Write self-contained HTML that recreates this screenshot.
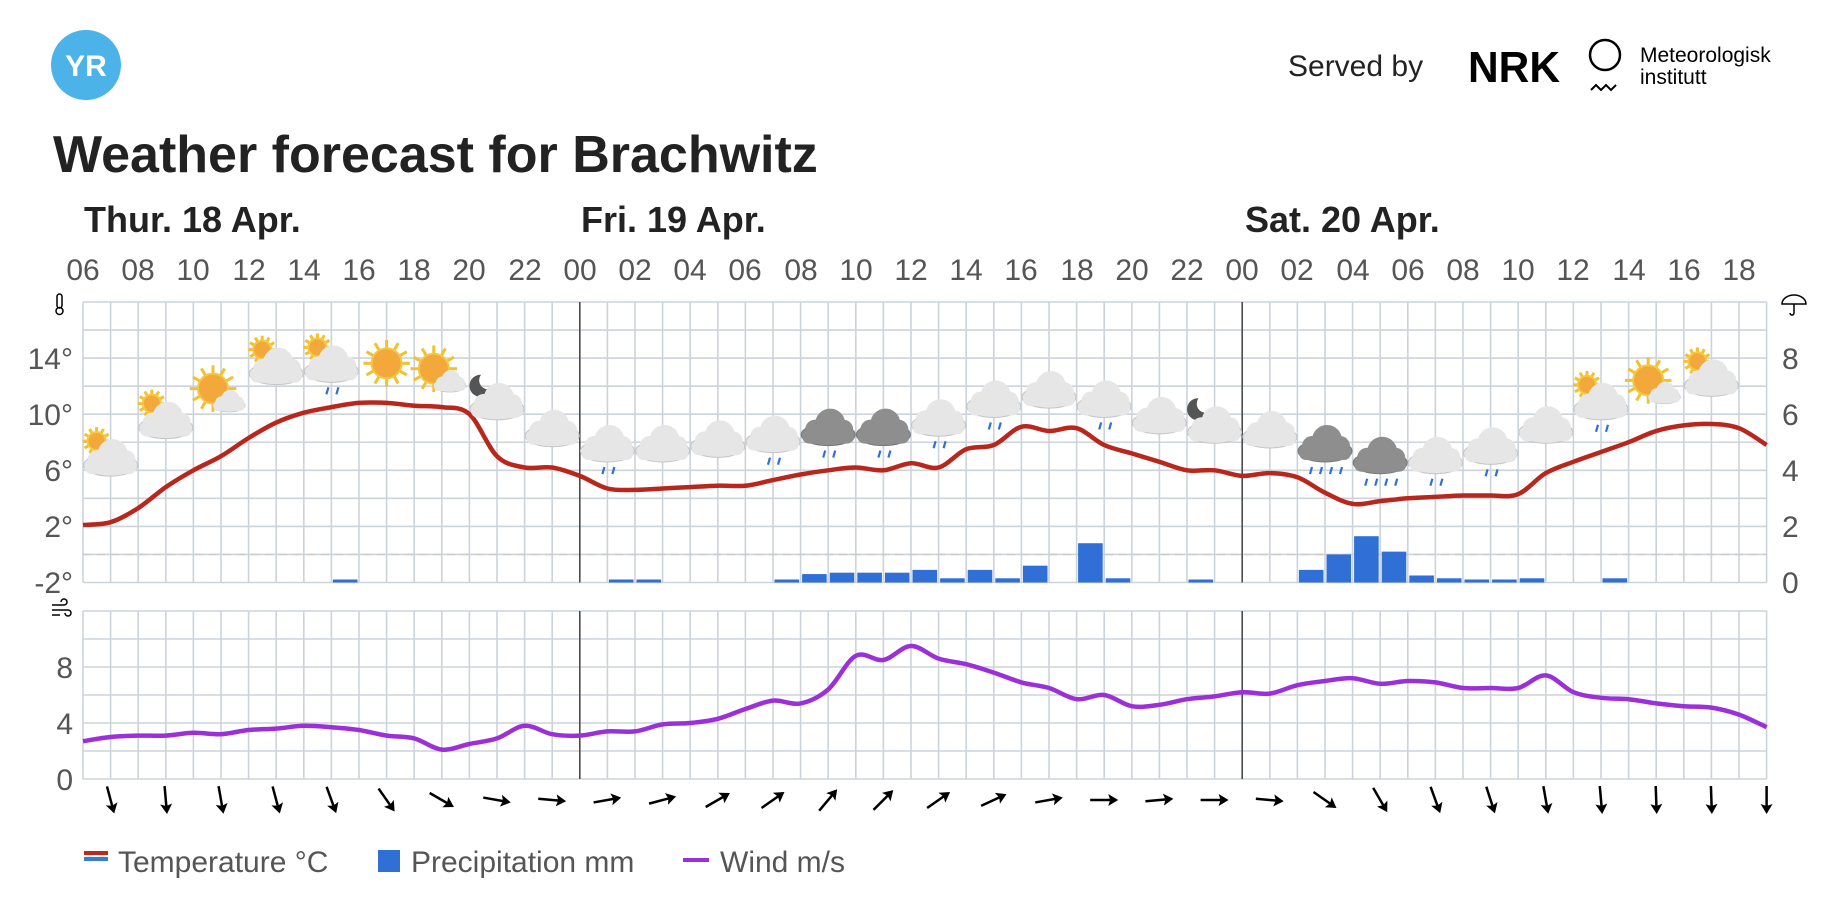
<!DOCTYPE html>
<html><head><meta charset="utf-8"><style>
body{margin:0;background:#fff;width:1839px;height:917px;overflow:hidden;font-family:"Liberation Sans",sans-serif}
svg{position:absolute;left:0;top:0}
</style></head><body>
<svg id="s" width="1839" height="917" viewBox="0 0 1839 917" xmlns="http://www.w3.org/2000/svg">
<circle cx="86" cy="65" r="35" fill="#4bb3e8"/>
<text x="86" y="76" font-size="30" font-weight="bold" fill="#fff" text-anchor="middle" font-family="Liberation Sans">YR</text>
<text x="1288" y="76" font-size="30" fill="#222">Served by</text>
<text x="1468" y="82" font-size="44" font-weight="900" fill="#000" textLength="92" lengthAdjust="spacingAndGlyphs">NRK</text>
<circle cx="1605" cy="55" r="15" fill="none" stroke="#000" stroke-width="2.5"/>
<path d="M1591 90 l5 -5 l5 5 l5 -5 l5 5 l5 -5" fill="none" stroke="#000" stroke-width="2"/>
<text x="1640" y="62" font-size="21" fill="#000">Meteorologisk</text>
<text x="1640" y="84" font-size="21" fill="#000">institutt</text>
<text x="53" y="172" font-size="52" font-weight="bold" fill="#222">Weather forecast for Brachwitz</text>
<text x="84" y="232" font-size="36" font-weight="bold" fill="#222">Thur. 18 Apr.</text>
<text x="581" y="232" font-size="36" font-weight="bold" fill="#222">Fri. 19 Apr.</text>
<text x="1245" y="232" font-size="36" font-weight="bold" fill="#222">Sat. 20 Apr.</text>
<g font-size="30" fill="#555" text-anchor="middle">
<text x="83" y="280">06</text><text x="138" y="280">08</text><text x="193" y="280">10</text><text x="249" y="280">12</text><text x="304" y="280">14</text><text x="359" y="280">16</text><text x="414" y="280">18</text><text x="469" y="280">20</text><text x="525" y="280">22</text><text x="580" y="280">00</text><text x="635" y="280">02</text><text x="690" y="280">04</text><text x="745" y="280">06</text><text x="801" y="280">08</text><text x="856" y="280">10</text><text x="911" y="280">12</text><text x="966" y="280">14</text><text x="1021" y="280">16</text><text x="1077" y="280">18</text><text x="1132" y="280">20</text><text x="1187" y="280">22</text><text x="1242" y="280">00</text><text x="1297" y="280">02</text><text x="1353" y="280">04</text><text x="1408" y="280">06</text><text x="1463" y="280">08</text><text x="1518" y="280">10</text><text x="1573" y="280">12</text><text x="1629" y="280">14</text><text x="1684" y="280">16</text><text x="1739" y="280">18</text>
</g>
<g font-size="30" fill="#555" text-anchor="end">
<text x="73" y="369">14°</text><text x="73" y="425">10°</text><text x="73" y="481">6°</text><text x="73" y="537">2°</text><text x="73" y="593">-2°</text>
<text x="73" y="678">8</text><text x="73" y="734">4</text><text x="73" y="790">0</text>
</g>
<g font-size="30" fill="#555" text-anchor="start">
<text x="1782" y="369">8</text><text x="1782" y="425">6</text><text x="1782" y="481">4</text><text x="1782" y="537">2</text><text x="1782" y="593">0</text>
</g>
<g id="g"></g>
<rect x="84" y="851" width="24" height="4" fill="#c0281e"/><rect x="84" y="857" width="24" height="4" fill="#3a7bd5"/>
<text x="118" y="872" font-size="30" fill="#555">Temperature °C</text>
<rect x="378" y="850" width="22" height="22" fill="#2f6fd6"/>
<text x="411" y="872" font-size="30" fill="#555">Precipitation mm</text>
<rect x="683" y="858" width="26" height="4" fill="#9b30d9"/>
<text x="720" y="872" font-size="30" fill="#555">Wind m/s</text>
</svg>
<script>
const g=document.getElementById('g');let h='';
const L=83,W=27.6,T0=302,TB=582.5,WT=611,WB=779,TS=14.03,WS=14;
const X=i=>L+i*W;
for(let i=0;i<=61;i++){h+=`<line x1="${X(i)}" y1="${T0}" x2="${X(i)}" y2="${TB}" stroke="#ccd3da" stroke-width="1.6"/>`;h+=`<line x1="${X(i)}" y1="${WT}" x2="${X(i)}" y2="${WB}" stroke="#ccd3da" stroke-width="1.6"/>`;}
for(let k=0;k<=10;k++){const y=T0+k*(TB-T0)/10;h+=`<line x1="${L}" y1="${y}" x2="${X(61)}" y2="${y}" stroke="#ccd3da" stroke-width="1.6"/>`;}
for(let k=0;k<=6;k++){const y=WT+k*(WB-WT)/6;h+=`<line x1="${L}" y1="${y}" x2="${X(61)}" y2="${y}" stroke="#ccd3da" stroke-width="1.6"/>`;}
h+=`<line x1="${L}" y1="${TB-2*TS}" x2="${X(61)}" y2="${TB-2*TS}" stroke="#ccc" stroke-width="1.6" stroke-dasharray="8 6"/>`;
[18,42].forEach(i=>{h+=`<line x1="${X(i)}" y1="${T0}" x2="${X(i)}" y2="${TB}" stroke="#444" stroke-width="1.5"/><line x1="${X(i)}" y1="${WT}" x2="${X(i)}" y2="${WB}" stroke="#444" stroke-width="1.5"/>`;});
h+=`<rect x="57" y="294" width="5" height="14" rx="2.5" fill="none" stroke="#000" stroke-width="1.5"/><circle cx="59.5" cy="311" r="3.5" fill="none" stroke="#000" stroke-width="1.5"/>`;
h+=`<path d="M1782 304 a12 9 0 0 1 24 0 z M1794 304 v9 a2 2 0 0 1 -4 0" fill="none" stroke="#000" stroke-width="1.5"/>`;
h+=`<path d="M52 605 h12 a3 3 0 1 0 -3 -3 M52 610 h16 a3 3 0 1 1 -3 3 M52 615 h8" fill="none" stroke="#000" stroke-width="1.5"/>`;
const P={9:0.05,19:0.1,20:0.1,25:0.05,26:0.3,27:0.35,28:0.35,29:0.35,30:0.45,31:0.15,32:0.45,33:0.15,34:0.6,36:1.4,37:0.15,40:0.05,44:0.45,45:1.0,46:1.65,47:1.1,48:0.25,49:0.15,50:0.06,51:0.06,52:0.15,55:0.15};
for(const k in P){const i=+k,hh=Math.max(P[k]*2*TS,3);h+=`<rect x="${X(i)+1.5}" y="${TB-hh}" width="${W-3}" height="${hh}" fill="#2f6fd6"/>`;}
function path(pts){let d=`M${pts[0][0]},${pts[0][1]}`;for(let i=0;i<pts.length-1;i++){const p0=pts[i-1]||pts[i],p1=pts[i],p2=pts[i+1],p3=pts[i+2]||p2;const c1=[p1[0]+(p2[0]-p0[0])/6,p1[1]+(p2[1]-p0[1])/6],c2=[p2[0]-(p3[0]-p1[0])/6,p2[1]-(p3[1]-p1[1])/6];d+=` C${c1[0].toFixed(1)},${c1[1].toFixed(1)} ${c2[0].toFixed(1)},${c2[1].toFixed(1)} ${p2[0].toFixed(1)},${p2[1].toFixed(1)}`;}return d;}
const t=[2.1,2.3,3.3,4.8,6,7,8.3,9.4,10.1,10.5,10.8,10.8,10.6,10.5,10,7,6.2,6.2,5.6,4.7,4.6,4.7,4.8,4.9,4.9,5.3,5.7,6,6.2,6,6.5,6.2,7.5,7.8,9.1,8.8,9,7.8,7.2,6.6,6,6,5.6,5.8,5.5,4.4,3.6,3.8,4,4.1,4.2,4.2,4.3,5.8,6.6,7.3,8,8.8,9.2,9.3,9,7.8];
const w=[2.7,3,3.1,3.1,3.3,3.2,3.5,3.6,3.8,3.7,3.5,3.1,2.9,2.1,2.5,2.9,3.8,3.2,3.1,3.4,3.4,3.9,4,4.3,5,5.6,5.4,6.4,8.8,8.5,9.5,8.6,8.2,7.6,6.9,6.5,5.7,6,5.2,5.3,5.7,5.9,6.2,6.1,6.7,7,7.2,6.8,7,6.9,6.5,6.5,6.5,7.4,6.2,5.8,5.7,5.4,5.2,5.1,4.6,3.7];
h+=`<path d="${path(t.map((v,i)=>[X(i),TB-(v+2)*TS]))}" fill="none" stroke="#b8261c" stroke-width="4.5" stroke-linejoin="round"/>`;
h+=`<path d="${path(w.map((v,i)=>[X(i),WB-v*WS]))}" fill="none" stroke="#9b30d9" stroke-width="4.5" stroke-linejoin="round"/>`;
function cloud(x,y,dark){const c=dark?'#8e8e8e':'#e6e6e6',s=dark?'#777':'#c4c4c4';return `<g><ellipse cx="${x}" cy="${y+8}" rx="27" ry="11" fill="${c}" stroke="${s}" stroke-width="1"/><circle cx="${x+2}" cy="${y-3}" r="15" fill="${c}"/><circle cx="${x-13}" cy="${y+3}" r="10" fill="${c}"/><circle cx="${x+15}" cy="${y+3}" r="10" fill="${c}"/><rect x="${x-26}" y="${y+2}" width="52" height="15" rx="7" fill="${c}"/></g>`;}
function sun(x,y,r){let s='';for(let a=0;a<360;a+=30){const rad=a*Math.PI/180;s+=`<line x1="${x+Math.cos(rad)*r}" y1="${y+Math.sin(rad)*r}" x2="${x+Math.cos(rad)*r*1.55}" y2="${y+Math.sin(rad)*r*1.55}" stroke="#f2c12e" stroke-width="3"/>`;}return s+`<circle cx="${x}" cy="${y}" r="${r}" fill="#f2a83a" stroke="#f5c842" stroke-width="2"/>`;}
function rain(x,y,n){let s='';for(let k=0;k<n;k++){const xx=x-(n-1)*5+k*10;s+=`<line x1="${xx+2}" y1="${y}" x2="${xx}" y2="${y+7}" stroke="#2f6fd6" stroke-width="2.2"/>`;}return s;}
function moon(x,y){return `<path d="M${x} ${y-10} a11 11 0 1 0 10 14 a9 9 0 0 1 -10 -14z" fill="#555"/>`;}
const I=[[1,390,'ps'],[3,358,'ps'],[5,335,'sc'],[7,312,'ps'],[9,310,'psr'],[11,310,'s'],[13,318,'sc'],[15,342,'m'],[17,365,'c'],[19,378,'cr'],[21,378,'c'],[23,374,'c'],[25,370,'cr'],[27,364,'dr'],[29,364,'dr'],[31,356,'cr'],[33,340,'cr'],[35,332,'c'],[37,340,'cr'],[39,354,'c'],[41,362,'m'],[43,366,'c'],[45,378,'dR'],[47,388,'dR'],[49,388,'cr'],[51,380,'cr'],[53,362,'c'],[55,342,'psr'],[57,328,'sc'],[59,322,'ps']];
I.forEach(([i,yd,k])=>{const x=X(i),y=yd*1.172;
 if(k=='s'){h+=sun(x,y,15);return;}
 if(k=='sc'){h+=sun(x-8,y-4,15)+`<g transform="translate(${x+8},${y+8}) scale(0.6) translate(${-x},${-y})">${cloud(x,y,false)}</g>`;return;}
 if(k[0]=='p'){h+=sun(x-14,y-16,9);}
 if(k=='m'){h+=moon(x-16,y-16);}
 const dark=k[0]=='d';h+=cloud(x,y,dark);
 if(k.endsWith('r'))h+=rain(x,y+24,2);
 if(k.endsWith('R'))h+=rain(x,y+24,4);
});
const A=[75,85,80,75,70,55,30,10,5,-10,-15,-30,-35,-50,-45,-35,-25,-10,0,-5,0,5,35,60,70,72,80,85,88,88,90];
A.forEach((a,j)=>{const x=X(1+2*j),y=800;h+=`<g transform="translate(${x},${y}) rotate(${a})"><line x1="-14" y1="0" x2="10" y2="0" stroke="#000" stroke-width="2.5"/><path d="M14 0 L4 -6 L6 0 L4 6z" fill="#000"/></g>`;});
g.innerHTML=h;
</script>
</body></html>
